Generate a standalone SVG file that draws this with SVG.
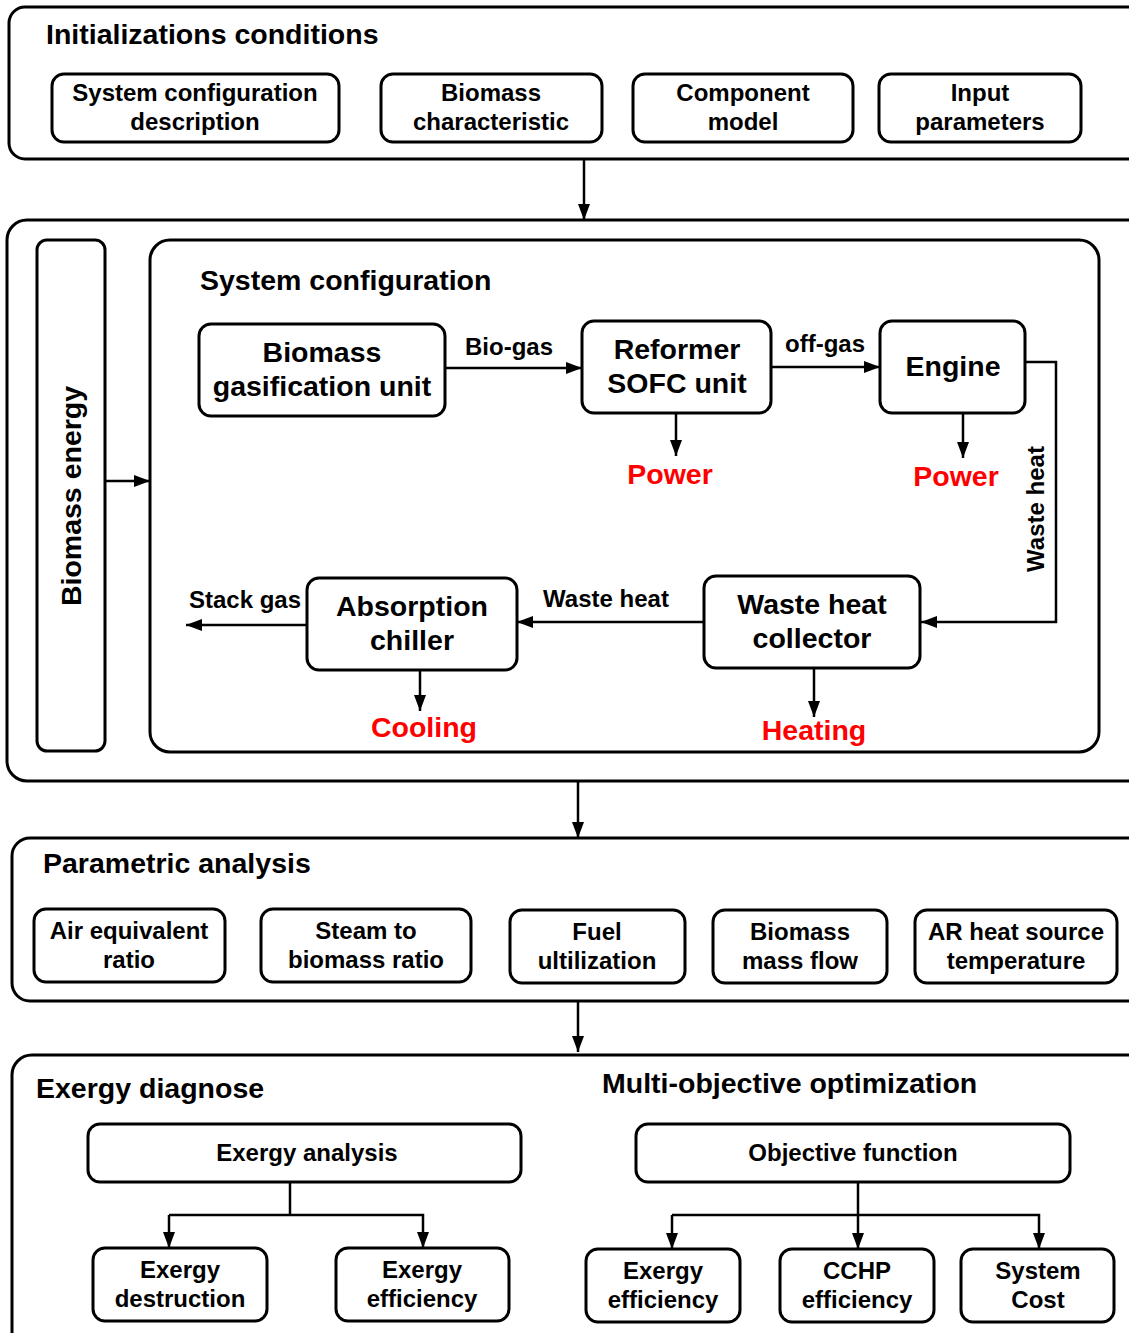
<svg xmlns="http://www.w3.org/2000/svg" width="1129" height="1333" viewBox="0 0 1129 1333">
<style>
.box{fill:#fff;stroke:#000;stroke-width:3}
.panel{fill:none;stroke:#000;stroke-width:3}
.t{font-family:"Liberation Sans",Arial,sans-serif;font-weight:bold;fill:#000;text-anchor:middle}
.s22{font-size:24px}
.s26{font-size:28.5px}
.s27{font-size:28.5px}
.hd{font-family:"Liberation Sans",Arial,sans-serif;font-weight:bold;font-size:28.5px;fill:#000}
.red{fill:#ff0000}
.ln{fill:none;stroke:#000;stroke-width:2.5}
</style>
<defs>
<marker id="ah" markerUnits="userSpaceOnUse" markerWidth="16" markerHeight="12" refX="16" refY="6" orient="auto">
<path d="M0,0 L16,6 L0,12 z" fill="#000"/>
</marker>
</defs>

<g id="init">
<rect class="panel" x="9" y="7" width="1135" height="152" rx="16"/>
<text class="hd" x="46" y="44">Initializations conditions</text>
</g>
<g id="n-sysdesc"><rect class="box" x="52" y="74" width="287" height="68" rx="12"/><text class="t s22" x="195" y="101">System configuration</text><text class="t s22" x="195" y="130">description</text></g>
<g id="n-biochar"><rect class="box" x="381" y="74" width="221" height="68" rx="12"/><text class="t s22" x="491" y="101">Biomass</text><text class="t s22" x="491" y="130">characteristic</text></g>
<g id="n-comp"><rect class="box" x="633" y="74" width="220" height="68" rx="12"/><text class="t s22" x="743" y="101">Component</text><text class="t s22" x="743" y="130">model</text></g>
<g id="n-input"><rect class="box" x="879" y="74" width="202" height="68" rx="12"/><text class="t s22" x="980" y="101">Input</text><text class="t s22" x="980" y="130">parameters</text></g>

<g id="sys">
<rect class="panel" x="7" y="220" width="1140" height="561" rx="20"/>
</g>
<g id="n-bioenergy"><rect class="box" x="37" y="240" width="68" height="511" rx="10"/><text class="t s26" transform="translate(81,496) rotate(-90)">Biomass energy</text></g>
<g id="n-syscfg"><rect class="box" x="150" y="240" width="949" height="512" rx="20"/><text class="hd" x="200" y="290">System configuration</text></g>
<g id="n-gasif"><rect class="box" x="199" y="324" width="246" height="92" rx="12"/><text class="t s27" x="322" y="362">Biomass</text><text class="t s27" x="322" y="396">gasification unit</text></g>
<g id="n-sofc"><rect class="box" x="582" y="321" width="189" height="92" rx="12"/><text class="t s27" x="677" y="359">Reformer</text><text class="t s27" x="677" y="393">SOFC unit</text></g>
<g id="n-engine"><rect class="box" x="880" y="321" width="145" height="92" rx="12"/><text class="t s27" x="953" y="376">Engine</text></g>
<g id="n-whc"><rect class="box" x="704" y="576" width="216" height="92" rx="12"/><text class="t s27" x="812" y="614">Waste heat</text><text class="t s27" x="812" y="648">collector</text></g>
<g id="n-abs"><rect class="box" x="307" y="578" width="210" height="92" rx="12"/><text class="t s27" x="412" y="616">Absorption</text><text class="t s27" x="412" y="650">chiller</text></g>
<g id="outputs">
<text class="t s26 red" x="670" y="484">Power</text>
<text class="t s26 red" x="956" y="486">Power</text>
<text class="t s26 red" x="424" y="737">Cooling</text>
<text class="t s26 red" x="814" y="740">Heating</text>
</g>

<g id="param">
<rect class="panel" x="12" y="838" width="1135" height="163" rx="18"/>
<text class="hd" x="43" y="873">Parametric analysis</text>
</g>
<g id="n-air"><rect class="box" x="34" y="909" width="191" height="73" rx="12"/><text class="t s22" x="129" y="939">Air equivalent</text><text class="t s22" x="129" y="968">ratio</text></g>
<g id="n-steam"><rect class="box" x="261" y="909" width="210" height="73" rx="12"/><text class="t s22" x="366" y="939">Steam to</text><text class="t s22" x="366" y="968">biomass ratio</text></g>
<g id="n-fuel"><rect class="box" x="510" y="910" width="175" height="73" rx="12"/><text class="t s22" x="597" y="940">Fuel</text><text class="t s22" x="597" y="969">ultilization</text></g>
<g id="n-bmf"><rect class="box" x="713" y="910" width="174" height="73" rx="12"/><text class="t s22" x="800" y="940">Biomass</text><text class="t s22" x="800" y="969">mass flow</text></g>
<g id="n-ar"><rect class="box" x="915" y="910" width="202" height="73" rx="12"/><text class="t s22" x="1016" y="940">AR heat source</text><text class="t s22" x="1016" y="969">temperature</text></g>

<g id="exergy">
<rect class="panel" x="12" y="1055" width="1135" height="300" rx="20"/>
<text class="hd" x="36" y="1098">Exergy diagnose</text>
<text class="hd" x="602" y="1093">Multi-objective optimization</text>
</g>
<g id="n-exan"><rect class="box" x="88" y="1124" width="433" height="58" rx="12"/><text class="t s22" x="307" y="1161">Exergy analysis</text></g>
<g id="n-obj"><rect class="box" x="636" y="1124" width="434" height="58" rx="12"/><text class="t s22" x="853" y="1161">Objective function</text></g>
<g id="n-exdes"><rect class="box" x="93" y="1248" width="174" height="73" rx="12"/><text class="t s22" x="180" y="1278">Exergy</text><text class="t s22" x="180" y="1307">destruction</text></g>
<g id="n-exeff1"><rect class="box" x="336" y="1248" width="173" height="73" rx="12"/><text class="t s22" x="422" y="1278">Exergy</text><text class="t s22" x="422" y="1307">efficiency</text></g>
<g id="n-exeff2"><rect class="box" x="586" y="1249" width="154" height="73" rx="12"/><text class="t s22" x="663" y="1279">Exergy</text><text class="t s22" x="663" y="1308">efficiency</text></g>
<g id="n-cchp"><rect class="box" x="780" y="1249" width="154" height="73" rx="12"/><text class="t s22" x="857" y="1279">CCHP</text><text class="t s22" x="857" y="1308">efficiency</text></g>
<g id="n-cost"><rect class="box" x="961" y="1249" width="153" height="73" rx="12"/><text class="t s22" x="1038" y="1279">System</text><text class="t s22" x="1038" y="1308">Cost</text></g>

<g id="connectors">
<line class="ln" x1="584" y1="159" x2="584" y2="220" marker-end="url(#ah)"/>
<line class="ln" x1="105" y1="481" x2="150" y2="481" marker-end="url(#ah)"/>
<line class="ln" x1="445" y1="368" x2="582" y2="368" marker-end="url(#ah)"/>
<text class="t s22" x="509" y="355">Bio-gas</text>
<line class="ln" x1="771" y1="367" x2="880" y2="367" marker-end="url(#ah)"/>
<text class="t s22" x="825" y="352">off-gas</text>
<polyline class="ln" points="1025,362 1056,362 1056,622 921,622" marker-end="url(#ah)"/>
<text class="t s22" transform="translate(1044,509) rotate(-90)">Waste heat</text>
<line class="ln" x1="676" y1="413" x2="676" y2="456" marker-end="url(#ah)"/>
<line class="ln" x1="963" y1="413" x2="963" y2="458" marker-end="url(#ah)"/>
<line class="ln" x1="704" y1="622" x2="517" y2="622" marker-end="url(#ah)"/>
<text class="t s22" x="606" y="607">Waste heat</text>
<line class="ln" x1="307" y1="625" x2="186" y2="625" marker-end="url(#ah)"/>
<text class="t s22" x="245" y="608">Stack gas</text>
<line class="ln" x1="420" y1="670" x2="420" y2="711" marker-end="url(#ah)"/>
<line class="ln" x1="814" y1="668" x2="814" y2="717" marker-end="url(#ah)"/>
<line class="ln" x1="578" y1="781" x2="578" y2="838" marker-end="url(#ah)"/>
<line class="ln" x1="578" y1="1001" x2="578" y2="1052" marker-end="url(#ah)"/>
<line class="ln" x1="290" y1="1182" x2="290" y2="1215"/>
<polyline class="ln" points="169,1215 423,1215 423,1248" marker-end="url(#ah)"/>
<line class="ln" x1="169" y1="1215" x2="169" y2="1248" marker-end="url(#ah)"/>
<line class="ln" x1="858" y1="1182" x2="858" y2="1249" marker-end="url(#ah)"/>
<polyline class="ln" points="672,1215 1039,1215 1039,1249" marker-end="url(#ah)"/>
<line class="ln" x1="672" y1="1215" x2="672" y2="1249" marker-end="url(#ah)"/>
</g>
</svg>
